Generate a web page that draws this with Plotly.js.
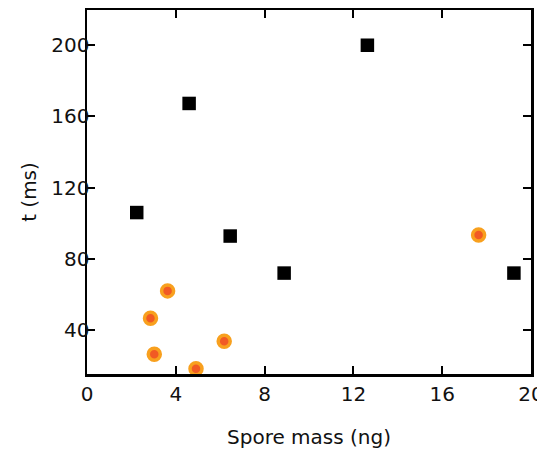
<!DOCTYPE html>
<html>
<head>
<meta charset="utf-8">
<script src="https://cdn.plot.ly/plotly-3.0.1.min.js"></script>
<style>html,body{margin:0;padding:0;background:#fff;}#chart{width:537px;height:452px;}</style>
</head>
<body>
<div id="chart"></div>
<script>
// Black squares series
const squareMass = [2.24, 4.6, 6.45, 8.88, 12.63, 19.23];
const squareTime = [106, 167.3, 92.8, 72, 200, 72];
// Orange circles series
const circleMass = [3.63, 2.86, 3.03, 4.91, 6.18, 17.64];
const circleTime = [62, 46.6, 26.4, 18.3, 33.7, 93.4];
// Ticks
const xTicks = [0, 4, 8, 12, 16, 20];
const yTicks = [40, 80, 120, 160, 200];

const font = {family: 'DejaVu Sans, Liberation Sans, Arial, sans-serif', size: 20, color: '#111'};

const traces = [
  {
    x: squareMass, y: squareTime, type: 'scatter', mode: 'markers',
    marker: {symbol: 'square', size: 13.5, color: '#000'},
    hoverinfo: 'x+y'
  },
  {
    x: circleMass, y: circleTime, type: 'scatter', mode: 'markers',
    marker: {symbol: 'circle', size: 12, color: '#f15a24', line: {color: '#f8a01e', width: 3.5}},
    hoverinfo: 'x+y'
  }
];

const axisCommon = {
  showgrid: false, zeroline: false, showline: true, linecolor: '#000', linewidth: 2.5,
  mirror: 'ticks', ticks: 'inside', ticklen: 8, tickwidth: 2, tickcolor: '#000',
  tickfont: font, ticklabeloverflow: 'allow'
};

const layout = {
  width: 537, height: 452,
  margin: {l: 87, r: 6, t: 10, b: 78},
  paper_bgcolor: '#fff', plot_bgcolor: '#fff',
  showlegend: false,
  font: font,
  xaxis: Object.assign({}, axisCommon, {
    range: [0, 20], tickvals: xTicks, ticktext: xTicks.map(String),
    title: {text: 'Spore mass (ng)', font: font, standoff: 26}
  }),
  yaxis: Object.assign({}, axisCommon, {
    range: [15.3, 219.8], tickvals: yTicks, ticktext: yTicks.map(String),
    ticklabelstandoff: -9,
    title: {text: 't (ms)', font: font}
  })
};

Plotly.newPlot('chart', traces, layout, {displayModeBar: false, staticPlot: true});
</script>
</body>
</html>
